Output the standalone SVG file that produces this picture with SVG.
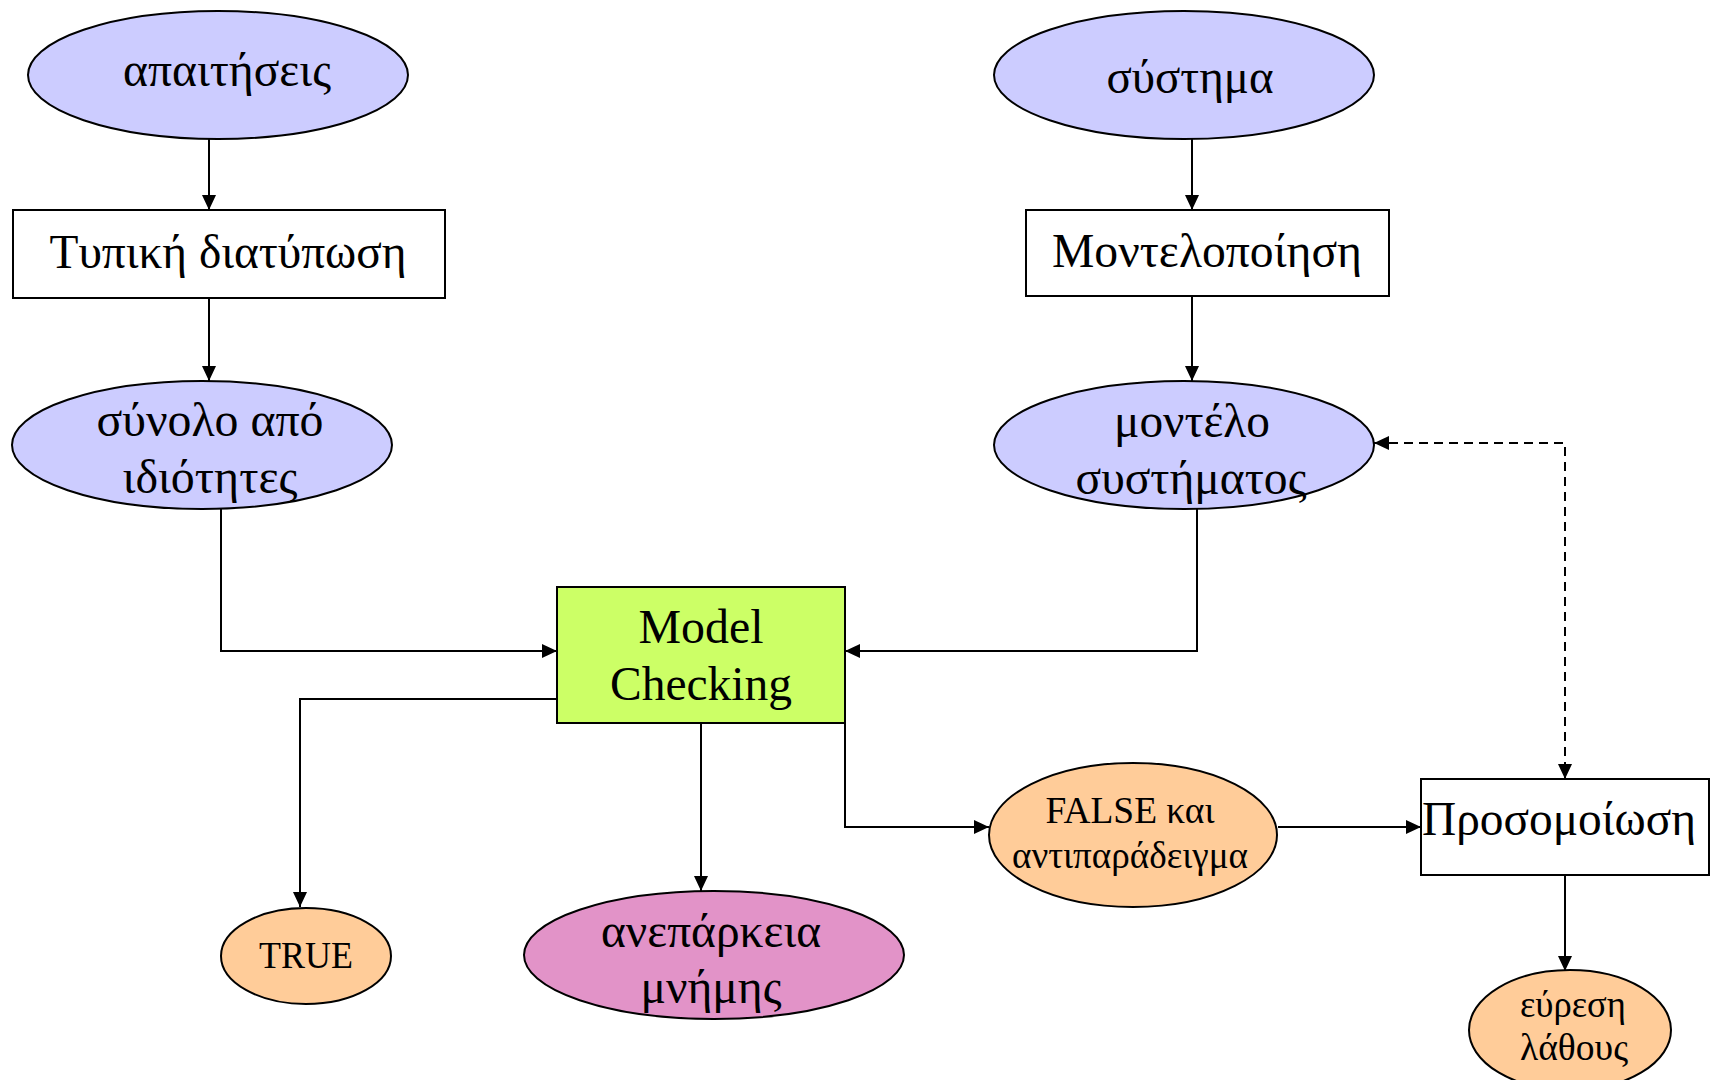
<svg xmlns="http://www.w3.org/2000/svg" width="1718" height="1080" viewBox="0 0 1718 1080">
  <style>
    .node { stroke: #000; stroke-width: 2; }
    .req { fill: #CCCCFF; }
    .res { fill: #FFCC99; }
    .mem { fill: #E293C8; }
    .proc { fill: #FFFFFF; }
    .mc { fill: #CCFF66; }
    text { font-family: "Liberation Serif", "Times New Roman", serif; fill: #000; text-anchor: middle; }
    .big { font-size: 48px; }
    .small { font-size: 38px; }
    .edge { fill: none; stroke: #000; stroke-width: 2; }
    .dash { stroke-dasharray: 9 6; }
  </style>
  <defs>
    <marker id="arrow" markerUnits="userSpaceOnUse" markerWidth="15" markerHeight="14" refX="15" refY="7" orient="auto-start-reverse">
      <path d="M0,0 L15,7 L0,14 z" fill="#000"/>
    </marker>
  </defs>

  <rect width="1718" height="1080" fill="#FFFFFF"/>

  <!-- connectors -->
  <g id="connectors">
    <path class="edge" d="M209,139 L209,210" marker-end="url(#arrow)"/>
    <path class="edge" d="M209,298 L209,381" marker-end="url(#arrow)"/>
    <path class="edge" d="M1192,139 L1192,210" marker-end="url(#arrow)"/>
    <path class="edge" d="M1192,296 L1192,381" marker-end="url(#arrow)"/>
    <path class="edge" d="M221,505 L221,651 L557,651" marker-end="url(#arrow)"/>
    <path class="edge" d="M1197,505 L1197,651 L845,651" marker-end="url(#arrow)"/>
    <path class="edge" d="M557,699 L300,699 L300,907" marker-end="url(#arrow)"/>
    <path class="edge" d="M701,715 L701,891" marker-end="url(#arrow)"/>
    <path class="edge" d="M845,715 L845,827 L989,827" marker-end="url(#arrow)"/>
    <path class="edge" d="M1278,827 L1421,827" marker-end="url(#arrow)"/>
    <path class="edge" d="M1565,875 L1565,971" marker-end="url(#arrow)"/>
    <path class="edge dash" d="M1374,443 L1565,443 L1565,779" marker-start="url(#arrow)" marker-end="url(#arrow)"/>
  </g>

  <g id="requirements">
    <ellipse class="node req" cx="218" cy="75" rx="190" ry="64"/>
    <text class="big" x="227" y="86" textLength="208" lengthAdjust="spacingAndGlyphs">απαιτήσεις</text>
  </g>

  <g id="formal-spec">
    <rect class="node proc" x="13" y="210" width="432" height="88"/>
    <text class="big" x="228" y="268" textLength="357" lengthAdjust="spacingAndGlyphs">Τυπική διατύπωση</text>
  </g>

  <g id="properties">
    <ellipse class="node req" cx="202" cy="445" rx="190" ry="64"/>
    <text class="big" x="210" y="436" textLength="227" lengthAdjust="spacingAndGlyphs">σύνολο από</text>
    <text class="big" x="210" y="493" textLength="175" lengthAdjust="spacingAndGlyphs">ιδιότητες</text>
  </g>

  <g id="system">
    <ellipse class="node req" cx="1184" cy="75" rx="190" ry="64"/>
    <text class="big" x="1190" y="93" textLength="167" lengthAdjust="spacingAndGlyphs">σύστημα</text>
  </g>

  <g id="modelling">
    <rect class="node proc" x="1026" y="210" width="363" height="86"/>
    <text class="big" x="1207" y="267" textLength="310" lengthAdjust="spacingAndGlyphs">Μοντελοποίηση</text>
  </g>

  <g id="system-model">
    <ellipse class="node req" cx="1184" cy="445" rx="190" ry="64"/>
    <text class="big" x="1192" y="437" textLength="156" lengthAdjust="spacingAndGlyphs">μοντέλο</text>
    <text class="big" x="1191" y="494" textLength="231" lengthAdjust="spacingAndGlyphs">συστήματος</text>
  </g>

  <g id="model-checking">
    <rect class="node mc" x="557" y="587" width="288" height="136"/>
    <text class="big" x="701" y="643" textLength="125" lengthAdjust="spacingAndGlyphs">Model</text>
    <text class="big" x="701" y="700" textLength="182" lengthAdjust="spacingAndGlyphs">Checking</text>
  </g>

  <g id="true">
    <ellipse class="node res" cx="306" cy="956" rx="85" ry="48"/>
    <text class="small" x="306" y="968" textLength="94" lengthAdjust="spacingAndGlyphs">TRUE</text>
  </g>

  <g id="out-of-memory">
    <ellipse class="node mem" cx="714" cy="955" rx="190" ry="64"/>
    <text class="big" x="711" y="947" textLength="220" lengthAdjust="spacingAndGlyphs">ανεπάρκεια</text>
    <text class="big" x="711" y="1003" textLength="141" lengthAdjust="spacingAndGlyphs">μνήμης</text>
  </g>

  <g id="counterexample">
    <ellipse class="node res" cx="1133" cy="835" rx="144" ry="72"/>
    <text class="small" x="1130" y="823" textLength="169" lengthAdjust="spacingAndGlyphs">FALSE και</text>
    <text class="small" x="1130" y="868" textLength="236" lengthAdjust="spacingAndGlyphs">αντιπαράδειγμα</text>
  </g>

  <g id="simulation">
    <rect class="node proc" x="1421" y="779" width="288" height="96"/>
    <text class="big" x="1559" y="835" textLength="274" lengthAdjust="spacingAndGlyphs">Προσομοίωση</text>
  </g>

  <g id="error-found">
    <ellipse class="node res" cx="1570" cy="1030" rx="101" ry="60"/>
    <text class="small" x="1573" y="1017" textLength="106" lengthAdjust="spacingAndGlyphs">εύρεση</text>
    <text class="small" x="1574" y="1060" textLength="108" lengthAdjust="spacingAndGlyphs">λάθους</text>
  </g>
</svg>
